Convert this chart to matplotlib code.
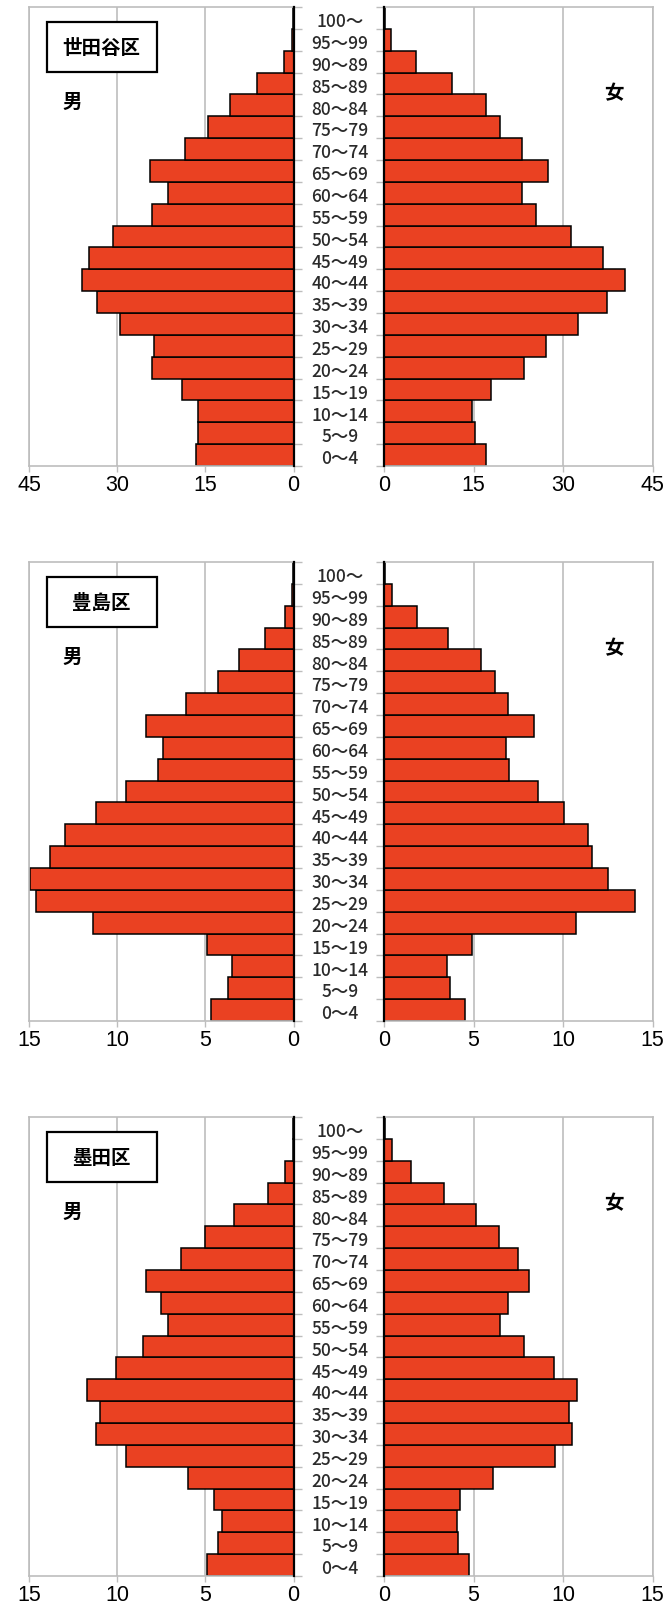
import numpy as np
import matplotlib.pyplot as plt
from matplotlib.patches import Rectangle
from matplotlib.transforms import blended_transform_factory

# age groups, bottom row first (the "90～89" label is as printed in the source)
ages = ["0～4", "5～9", "10～14", "15～19", "20～24", "25～29", "30～34", "35～39",
        "40～44", "45～49", "50～54", "55～59", "60～64", "65～69", "70～74", "75～79",
        "80～84", "85～89", "90～89", "95～99", "100～"]

# population by age group (thousands)
setagaya_male = [16.6, 16.2, 16.2, 19.0, 24.1, 23.8, 29.5, 33.5, 36.1, 34.8, 30.7,
                 24.1, 21.3, 24.4, 18.5, 14.5, 10.9, 6.25, 1.7, 0.3, 0.1]
setagaya_female = [17.0, 15.2, 14.8, 17.9, 23.5, 27.2, 32.5, 37.4, 40.4, 36.7, 31.3,
                   25.5, 23.1, 27.5, 23.1, 19.4, 17.0, 11.4, 5.3, 1.2, 0.1]

toshima_male = [4.7, 3.7, 3.5, 4.9, 11.4, 14.6, 14.95, 13.8, 12.95, 11.2, 9.5,
                7.7, 7.4, 8.4, 6.1, 4.3, 3.1, 1.6, 0.5, 0.1, 0.03]
toshima_female = [4.5, 3.7, 3.5, 4.9, 10.7, 14.0, 12.5, 11.6, 11.4, 10.05, 8.6,
                  7.0, 6.8, 8.35, 6.9, 6.2, 5.4, 3.6, 1.85, 0.43, 0.03]

sumida_male = [4.9, 4.26, 4.07, 4.5, 5.97, 9.5, 11.2, 11.0, 11.7, 10.1, 8.56,
               7.1, 7.5, 8.4, 6.4, 5.0, 3.35, 1.46, 0.5, 0.05, 0.03]
sumida_female = [4.74, 4.15, 4.05, 4.24, 6.1, 9.57, 10.5, 10.3, 10.8, 9.5, 7.84,
                 6.5, 6.9, 8.1, 7.5, 6.4, 5.15, 3.35, 1.49, 0.46, 0.05]

wards = ["世田谷区", "豊島区", "墨田区"]
males = [setagaya_male, toshima_male, sumida_male]
females = [setagaya_female, toshima_female, sumida_female]
xmax = [45, 15, 15]
xstep = [15, 5, 5]

RED = "#EA4122"
GRID = "#BDBDBD"
CJK = ["Noto Sans CJK JP", "DejaVu Sans"]
NUM = ["Liberation Sans Narrow", "Liberation Sans", "DejaVu Sans"]

W, H = 664, 1608
fig = plt.figure(figsize=(W / 100, H / 100), dpi=100)


def px_box(x0, y0, x1, y1):
    # pixel box (top-left origin) -> figure fraction rect
    return [x0 / W, 1 - y1 / H, (x1 - x0) / W, (y1 - y0) / H]


def style(ax, side, mx, step):
    ax.set_ylim(-0.5, len(ages) - 0.5)
    ax.set_xticks(np.arange(0, mx + 1, step))
    ax.set_yticks(np.arange(-0.5, len(ages), 1))
    ax.set_yticklabels([])
    ax.grid(axis="x", color=GRID, lw=1.2)
    ax.set_axisbelow(True)
    for s in ax.spines.values():
        s.set_color(GRID)
        s.set_linewidth(1.2)
    inner = "right" if side == "left" else "left"
    ax.spines[inner].set_color("black")
    ax.spines[inner].set_linewidth(1.6)
    ax.spines[inner].set_zorder(5)
    if side == "left":
        ax.set_xlim(mx, 0)
        ax.yaxis.tick_right()
    else:
        ax.set_xlim(0, mx)
    ax.tick_params(axis="y", length=6, color=GRID, width=1)
    ax.tick_params(axis="x", length=4, color=GRID, width=1, pad=2, labelsize=15.5)
    for t in ax.get_xticklabels():
        t.set_family(NUM)


tops = [8, 563, 1118]
y = np.arange(len(ages))

for i, top in enumerate(tops):
    bottom = top + 459
    ax_l = fig.add_axes(px_box(29.3, top, 293.5, bottom))
    ax_r = fig.add_axes(px_box(384, top, 652.7, bottom))

    ax_l.barh(y, males[i], height=1.0, color=RED, edgecolor="black", linewidth=1.1)
    ax_r.barh(y, females[i], height=1.0, color=RED, edgecolor="black", linewidth=1.1)
    style(ax_l, "left", xmax[i], xstep[i])
    style(ax_r, "right", xmax[i], xstep[i])

    # age labels in the gap between the two halves
    tr = blended_transform_factory(fig.transFigure, ax_r.transData)
    for k, lab in enumerate(ages):
        ax_r.text(340 / W, k - 0.15, lab, transform=tr, ha="center", va="center",
                  fontsize=12.5, fontweight="medium", family=CJK, color="#2a2a2a",
                  clip_on=False)

    # ward name box
    fig.add_artist(Rectangle((46.7 / W, 1 - (top + 65) / H), 109.8 / W, 50 / H,
                             transform=fig.transFigure, fc="white", ec="black",
                             lw=1.6, zorder=6))
    fig.text(101.5 / W, 1 - (top + 40) / H, wards[i], ha="center", va="center",
             fontsize=14, fontweight="bold", family=CJK, zorder=7)
    fig.text(72 / W, 1 - (top + 94) / H, "男", ha="center", va="center",
             fontsize=14, fontweight="bold", family=CJK)
    fig.text(614 / W, 1 - (top + 86) / H, "女", ha="center", va="center",
             fontsize=14, fontweight="bold", family=CJK)

fig.savefig("out.png", dpi=100, facecolor="white")
